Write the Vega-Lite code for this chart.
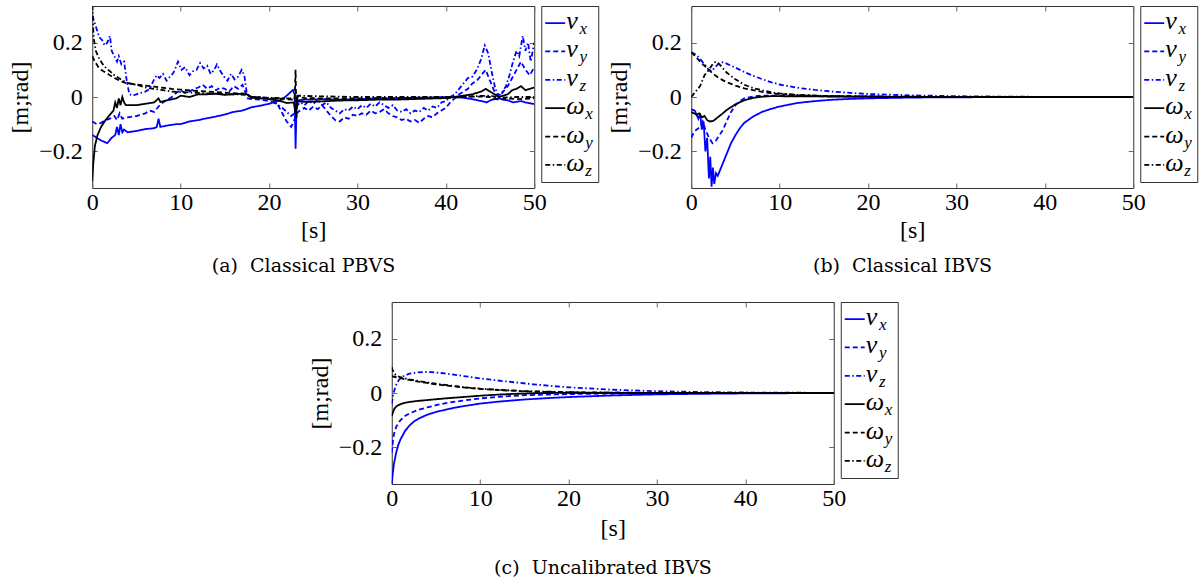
{
  "$schema": "https://vega.github.io/schema/vega-lite/v6.json",
  "padding": {"left": 8, "top": 4, "right": 2, "bottom": 2},
  "background": "white",
  "center": true,
  "spacing": 25,
  "datasets": {
    "L": [
      {"s": "vx", "sym": "v", "sub": "x"},
      {"s": "vy", "sym": "v", "sub": "y"},
      {"s": "vz", "sym": "v", "sub": "z"},
      {"s": "wx", "sym": "ω", "sub": "x"},
      {"s": "wy", "sym": "ω", "sub": "y"},
      {"s": "wz", "sym": "ω", "sub": "z"}
    ],
    "A": [
      {"s":"vx","t":0,"v":-0.14},{"s":"vx","t":0.5,"v":-0.15},{"s":"vx","t":1,"v":-0.16},{"s":"vx","t":1.7,"v":-0.17},{"s":"vx","t":2.2,"v":-0.15},{"s":"vx","t":2.6,"v":-0.14},{"s":"vx","t":2.8,"v":-0.11},{"s":"vx","t":3.0,"v":-0.14},{"s":"vx","t":3.2,"v":-0.10},{"s":"vx","t":3.4,"v":-0.13},{"s":"vx","t":3.6,"v":-0.12},{"s":"vx","t":4,"v":-0.13},{"s":"vx","t":5,"v":-0.125},{"s":"vx","t":6,"v":-0.118},{"s":"vx","t":7,"v":-0.115},{"s":"vx","t":7.3,"v":-0.11},{"s":"vx","t":7.5,"v":-0.08},{"s":"vx","t":7.7,"v":-0.11},{"s":"vx","t":8.5,"v":-0.105},{"s":"vx","t":9.5,"v":-0.1},{"s":"vx","t":10,"v":-0.1},{"s":"vx","t":11,"v":-0.09},{"s":"vx","t":12,"v":-0.085},{"s":"vx","t":13,"v":-0.078},{"s":"vx","t":14,"v":-0.072},{"s":"vx","t":15,"v":-0.064},{"s":"vx","t":16,"v":-0.055},{"s":"vx","t":17,"v":-0.05},{"s":"vx","t":17.5,"v":-0.044},{"s":"vx","t":18,"v":-0.038},{"s":"vx","t":19,"v":-0.032},{"s":"vx","t":20,"v":-0.025},{"s":"vx","t":21,"v":-0.015},{"s":"vx","t":21.5,"v":-0.008},{"s":"vx","t":22,"v":0.005},{"s":"vx","t":22.7,"v":0.026},{"s":"vx","t":22.9,"v":0.01},{"s":"vx","t":23.0,"v":-0.19},{"s":"vx","t":23.1,"v":-0.05},{"s":"vx","t":23.3,"v":-0.012},{"s":"vx","t":24,"v":-0.01},{"s":"vx","t":26,"v":-0.008},{"s":"vx","t":28,"v":-0.01},{"s":"vx","t":30,"v":-0.008},{"s":"vx","t":32,"v":-0.006},{"s":"vx","t":34,"v":-0.005},{"s":"vx","t":36,"v":-0.003},{"s":"vx","t":38,"v":-0.002},{"s":"vx","t":40,"v":0},{"s":"vx","t":41,"v":0},{"s":"vx","t":42,"v":-0.003},{"s":"vx","t":43,"v":-0.008},{"s":"vx","t":44,"v":-0.015},{"s":"vx","t":44.6,"v":-0.02},{"s":"vx","t":45.2,"v":-0.01},{"s":"vx","t":46,"v":-0.005},{"s":"vx","t":46.5,"v":-0.01},{"s":"vx","t":47,"v":-0.012},{"s":"vx","t":47.6,"v":-0.02},{"s":"vx","t":48.5,"v":-0.015},{"s":"vx","t":49,"v":-0.02},{"s":"vx","t":50,"v":-0.026},
      {"s":"vy","t":0,"v":-0.09},{"s":"vy","t":0.5,"v":-0.1},{"s":"vy","t":1,"v":-0.095},{"s":"vy","t":1.5,"v":-0.085},{"s":"vy","t":2,"v":-0.08},{"s":"vy","t":2.5,"v":-0.07},{"s":"vy","t":2.8,"v":-0.085},{"s":"vy","t":3.1,"v":-0.06},{"s":"vy","t":3.4,"v":-0.08},{"s":"vy","t":4,"v":-0.075},{"s":"vy","t":5,"v":-0.07},{"s":"vy","t":5.5,"v":-0.065},{"s":"vy","t":6,"v":-0.06},{"s":"vy","t":6.5,"v":-0.05},{"s":"vy","t":7,"v":-0.055},{"s":"vy","t":7.5,"v":-0.035},{"s":"vy","t":8,"v":-0.02},{"s":"vy","t":8.5,"v":-0.01},{"s":"vy","t":9,"v":0.0},{"s":"vy","t":9.5,"v":0.015},{"s":"vy","t":10,"v":0.025},{"s":"vy","t":10.5,"v":0.015},{"s":"vy","t":11,"v":0.02},{"s":"vy","t":11.5,"v":0.03},{"s":"vy","t":12,"v":0.035},{"s":"vy","t":12.5,"v":0.045},{"s":"vy","t":13,"v":0.03},{"s":"vy","t":13.5,"v":0.04},{"s":"vy","t":14,"v":0.025},{"s":"vy","t":14.5,"v":0.035},{"s":"vy","t":15,"v":0.03},{"s":"vy","t":15.5,"v":0.02},{"s":"vy","t":16,"v":0.04},{"s":"vy","t":16.5,"v":0.03},{"s":"vy","t":17,"v":0.045},{"s":"vy","t":17.3,"v":0.02},{"s":"vy","t":17.6,"v":-0.005},{"s":"vy","t":18,"v":-0.008},{"s":"vy","t":19,"v":-0.01},{"s":"vy","t":20,"v":-0.015},{"s":"vy","t":20.5,"v":-0.02},{"s":"vy","t":21,"v":-0.03},{"s":"vy","t":21.5,"v":-0.06},{"s":"vy","t":22,"v":-0.09},{"s":"vy","t":22.5,"v":-0.11},{"s":"vy","t":22.8,"v":-0.09},{"s":"vy","t":23.1,"v":-0.06},{"s":"vy","t":23.5,"v":-0.05},{"s":"vy","t":24,"v":-0.04},{"s":"vy","t":24.5,"v":-0.05},{"s":"vy","t":25,"v":-0.035},{"s":"vy","t":25.5,"v":-0.045},{"s":"vy","t":26,"v":-0.03},{"s":"vy","t":26.5,"v":-0.05},{"s":"vy","t":27,"v":-0.07},{"s":"vy","t":27.5,"v":-0.085},{"s":"vy","t":28,"v":-0.09},{"s":"vy","t":28.5,"v":-0.075},{"s":"vy","t":29,"v":-0.08},{"s":"vy","t":29.5,"v":-0.065},{"s":"vy","t":30,"v":-0.07},{"s":"vy","t":30.5,"v":-0.06},{"s":"vy","t":31,"v":-0.065},{"s":"vy","t":31.5,"v":-0.05},{"s":"vy","t":32,"v":-0.06},{"s":"vy","t":32.5,"v":-0.055},{"s":"vy","t":33,"v":-0.045},{"s":"vy","t":33.5,"v":-0.06},{"s":"vy","t":34,"v":-0.07},{"s":"vy","t":34.5,"v":-0.075},{"s":"vy","t":35,"v":-0.085},{"s":"vy","t":35.5,"v":-0.08},{"s":"vy","t":36,"v":-0.09},{"s":"vy","t":36.5,"v":-0.085},{"s":"vy","t":37,"v":-0.095},{"s":"vy","t":37.5,"v":-0.08},{"s":"vy","t":38,"v":-0.07},{"s":"vy","t":38.5,"v":-0.075},{"s":"vy","t":39,"v":-0.06},{"s":"vy","t":39.5,"v":-0.05},{"s":"vy","t":40,"v":-0.04},{"s":"vy","t":40.5,"v":-0.02},{"s":"vy","t":41,"v":-0.005},{"s":"vy","t":41.5,"v":0.01},{"s":"vy","t":42,"v":0.02},{"s":"vy","t":42.5,"v":0.03},{"s":"vy","t":43,"v":0.05},{"s":"vy","t":43.5,"v":0.06},{"s":"vy","t":44,"v":0.08},{"s":"vy","t":44.5,"v":0.1},{"s":"vy","t":45,"v":0.06},{"s":"vy","t":45.5,"v":0.02},{"s":"vy","t":46,"v":0.0},{"s":"vy","t":46.5,"v":0.02},{"s":"vy","t":47,"v":0.04},{"s":"vy","t":47.5,"v":0.07},{"s":"vy","t":48,"v":0.1},{"s":"vy","t":48.5,"v":0.13},{"s":"vy","t":49,"v":0.1},{"s":"vy","t":49.5,"v":0.08},{"s":"vy","t":50,"v":0.11},
      {"s":"vz","t":0,"v":0.30},{"s":"vz","t":0.2,"v":0.28},{"s":"vz","t":0.5,"v":0.25},{"s":"vz","t":0.8,"v":0.22},{"s":"vz","t":1.1,"v":0.21},{"s":"vz","t":1.4,"v":0.19},{"s":"vz","t":1.7,"v":0.2},{"s":"vz","t":2,"v":0.225},{"s":"vz","t":2.2,"v":0.17},{"s":"vz","t":2.5,"v":0.15},{"s":"vz","t":2.8,"v":0.13},{"s":"vz","t":3,"v":0.15},{"s":"vz","t":3.3,"v":0.12},{"s":"vz","t":3.6,"v":0.13},{"s":"vz","t":3.9,"v":0.06},{"s":"vz","t":4.2,"v":0.01},{"s":"vz","t":4.6,"v":0.005},{"s":"vz","t":5,"v":0.01},{"s":"vz","t":5.5,"v":0.015},{"s":"vz","t":6,"v":0.02},{"s":"vz","t":6.5,"v":0.03},{"s":"vz","t":7,"v":0.065},{"s":"vz","t":7.3,"v":0.08},{"s":"vz","t":7.6,"v":0.07},{"s":"vz","t":8,"v":0.085},{"s":"vz","t":8.4,"v":0.06},{"s":"vz","t":8.8,"v":0.075},{"s":"vz","t":9.2,"v":0.09},{"s":"vz","t":9.7,"v":0.13},{"s":"vz","t":10.1,"v":0.1},{"s":"vz","t":10.5,"v":0.11},{"s":"vz","t":11,"v":0.08},{"s":"vz","t":11.4,"v":0.095},{"s":"vz","t":11.8,"v":0.1},{"s":"vz","t":12.2,"v":0.125},{"s":"vz","t":12.6,"v":0.105},{"s":"vz","t":13,"v":0.115},{"s":"vz","t":13.4,"v":0.085},{"s":"vz","t":13.8,"v":0.1},{"s":"vz","t":14.1,"v":0.12},{"s":"vz","t":14.5,"v":0.095},{"s":"vz","t":14.9,"v":0.075},{"s":"vz","t":15.3,"v":0.06},{"s":"vz","t":15.7,"v":0.085},{"s":"vz","t":16.1,"v":0.065},{"s":"vz","t":16.5,"v":0.075},{"s":"vz","t":16.9,"v":0.1},{"s":"vz","t":17.2,"v":0.08},{"s":"vz","t":17.5,"v":0.01},{"s":"vz","t":18,"v":0.0},{"s":"vz","t":19,"v":0.0},{"s":"vz","t":20,"v":-0.005},{"s":"vz","t":20.5,"v":-0.015},{"s":"vz","t":21,"v":-0.03},{"s":"vz","t":21.5,"v":-0.04},{"s":"vz","t":22,"v":-0.055},{"s":"vz","t":22.5,"v":-0.07},{"s":"vz","t":22.9,"v":-0.06},{"s":"vz","t":23.2,"v":-0.03},{"s":"vz","t":23.6,"v":-0.02},{"s":"vz","t":24,"v":-0.03},{"s":"vz","t":24.5,"v":-0.015},{"s":"vz","t":25,"v":-0.025},{"s":"vz","t":25.5,"v":-0.01},{"s":"vz","t":26,"v":-0.03},{"s":"vz","t":26.5,"v":-0.02},{"s":"vz","t":27,"v":-0.04},{"s":"vz","t":27.5,"v":-0.05},{"s":"vz","t":28,"v":-0.06},{"s":"vz","t":28.5,"v":-0.045},{"s":"vz","t":29,"v":-0.05},{"s":"vz","t":29.5,"v":-0.035},{"s":"vz","t":30,"v":-0.045},{"s":"vz","t":30.5,"v":-0.03},{"s":"vz","t":31,"v":-0.04},{"s":"vz","t":31.5,"v":-0.025},{"s":"vz","t":32,"v":-0.035},{"s":"vz","t":32.5,"v":-0.02},{"s":"vz","t":33,"v":-0.03},{"s":"vz","t":33.5,"v":-0.04},{"s":"vz","t":34,"v":-0.03},{"s":"vz","t":34.5,"v":-0.05},{"s":"vz","t":35,"v":-0.055},{"s":"vz","t":35.5,"v":-0.045},{"s":"vz","t":36,"v":-0.06},{"s":"vz","t":36.5,"v":-0.05},{"s":"vz","t":37,"v":-0.055},{"s":"vz","t":37.5,"v":-0.04},{"s":"vz","t":38,"v":-0.05},{"s":"vz","t":38.5,"v":-0.035},{"s":"vz","t":39,"v":-0.04},{"s":"vz","t":39.5,"v":-0.02},{"s":"vz","t":40,"v":-0.015},{"s":"vz","t":40.5,"v":0.0},{"s":"vz","t":41,"v":0.01},{"s":"vz","t":41.5,"v":0.03},{"s":"vz","t":42,"v":0.05},{"s":"vz","t":42.5,"v":0.07},{"s":"vz","t":43,"v":0.075},{"s":"vz","t":43.5,"v":0.1},{"s":"vz","t":44,"v":0.14},{"s":"vz","t":44.4,"v":0.19},{"s":"vz","t":44.8,"v":0.16},{"s":"vz","t":45.2,"v":0.09},{"s":"vz","t":45.6,"v":0.03},{"s":"vz","t":46,"v":0.005},{"s":"vz","t":46.4,"v":0.02},{"s":"vz","t":46.8,"v":0.04},{"s":"vz","t":47.2,"v":0.08},{"s":"vz","t":47.6,"v":0.13},{"s":"vz","t":48,"v":0.17},{"s":"vz","t":48.3,"v":0.15},{"s":"vz","t":48.7,"v":0.225},{"s":"vz","t":49,"v":0.17},{"s":"vz","t":49.3,"v":0.2},{"s":"vz","t":49.6,"v":0.13},{"s":"vz","t":50,"v":0.2},
      {"s":"wx","t":0,"v":-0.31},{"s":"wx","t":0.1,"v":-0.25},{"s":"wx","t":0.3,"v":-0.18},{"s":"wx","t":0.6,"v":-0.14},{"s":"wx","t":1,"v":-0.11},{"s":"wx","t":1.5,"v":-0.085},{"s":"wx","t":2,"v":-0.065},{"s":"wx","t":2.4,"v":-0.05},{"s":"wx","t":2.6,"v":-0.02},{"s":"wx","t":2.8,"v":-0.04},{"s":"wx","t":3.0,"v":-0.005},{"s":"wx","t":3.2,"v":-0.03},{"s":"wx","t":3.4,"v":0.0},{"s":"wx","t":3.6,"v":-0.02},{"s":"wx","t":3.8,"v":-0.03},{"s":"wx","t":5,"v":-0.03},{"s":"wx","t":6,"v":-0.025},{"s":"wx","t":7,"v":-0.02},{"s":"wx","t":7.5,"v":-0.005},{"s":"wx","t":7.7,"v":-0.018},{"s":"wx","t":8.5,"v":-0.012},{"s":"wx","t":9.5,"v":-0.005},{"s":"wx","t":10,"v":0.005},{"s":"wx","t":11,"v":0.0},{"s":"wx","t":12,"v":0.01},{"s":"wx","t":13,"v":0.01},{"s":"wx","t":14,"v":0.012},{"s":"wx","t":15,"v":0.008},{"s":"wx","t":16,"v":0.01},{"s":"wx","t":17,"v":0.012},{"s":"wx","t":17.5,"v":0.01},{"s":"wx","t":18,"v":-0.003},{"s":"wx","t":19,"v":-0.005},{"s":"wx","t":20,"v":-0.008},{"s":"wx","t":21,"v":-0.012},{"s":"wx","t":22,"v":-0.022},{"s":"wx","t":22.8,"v":-0.02},{"s":"wx","t":23.0,"v":-0.06},{"s":"wx","t":23.1,"v":-0.015},{"s":"wx","t":24,"v":-0.018},{"s":"wx","t":26,"v":-0.016},{"s":"wx","t":28,"v":-0.013},{"s":"wx","t":30,"v":-0.012},{"s":"wx","t":32,"v":-0.01},{"s":"wx","t":34,"v":-0.01},{"s":"wx","t":36,"v":-0.008},{"s":"wx","t":38,"v":-0.006},{"s":"wx","t":40,"v":-0.004},{"s":"wx","t":41,"v":0.0},{"s":"wx","t":42,"v":0.005},{"s":"wx","t":43,"v":0.01},{"s":"wx","t":44,"v":0.02},{"s":"wx","t":44.5,"v":0.03},{"s":"wx","t":45,"v":0.02},{"s":"wx","t":45.5,"v":0.01},{"s":"wx","t":46,"v":0.0},{"s":"wx","t":46.5,"v":0.005},{"s":"wx","t":47,"v":0.01},{"s":"wx","t":47.5,"v":0.025},{"s":"wx","t":48,"v":0.03},{"s":"wx","t":48.5,"v":0.04},{"s":"wx","t":49,"v":0.025},{"s":"wx","t":49.5,"v":0.03},{"s":"wx","t":50,"v":0.035},
      {"s":"wy","t":0,"v":0.15},{"s":"wy","t":0.3,"v":0.13},{"s":"wy","t":0.7,"v":0.11},{"s":"wy","t":1,"v":0.1},{"s":"wy","t":1.5,"v":0.09},{"s":"wy","t":2,"v":0.08},{"s":"wy","t":2.5,"v":0.07},{"s":"wy","t":3,"v":0.062},{"s":"wy","t":3.5,"v":0.055},{"s":"wy","t":4,"v":0.05},{"s":"wy","t":5,"v":0.046},{"s":"wy","t":6,"v":0.042},{"s":"wy","t":7,"v":0.038},{"s":"wy","t":8,"v":0.034},{"s":"wy","t":9,"v":0.03},{"s":"wy","t":10,"v":0.027},{"s":"wy","t":12,"v":0.022},{"s":"wy","t":14,"v":0.018},{"s":"wy","t":16,"v":0.014},{"s":"wy","t":17.5,"v":0.012},{"s":"wy","t":18,"v":0.0},{"s":"wy","t":20,"v":-0.003},{"s":"wy","t":22,"v":-0.008},{"s":"wy","t":22.9,"v":-0.01},{"s":"wy","t":23.0,"v":0.1},{"s":"wy","t":23.1,"v":-0.08},{"s":"wy","t":23.2,"v":0.0},{"s":"wy","t":24,"v":-0.004},{"s":"wy","t":26,"v":-0.005},{"s":"wy","t":30,"v":-0.005},{"s":"wy","t":35,"v":-0.004},{"s":"wy","t":40,"v":-0.004},{"s":"wy","t":42,"v":0.0},{"s":"wy","t":44,"v":0.002},{"s":"wy","t":45,"v":0.0},{"s":"wy","t":46,"v":-0.01},{"s":"wy","t":47,"v":-0.005},{"s":"wy","t":48,"v":-0.008},{"s":"wy","t":50,"v":-0.005},
      {"s":"wz","t":0,"v":0.34},{"s":"wz","t":0.15,"v":0.22},{"s":"wz","t":0.4,"v":0.17},{"s":"wz","t":0.8,"v":0.14},{"s":"wz","t":1.2,"v":0.12},{"s":"wz","t":1.6,"v":0.105},{"s":"wz","t":2,"v":0.095},{"s":"wz","t":2.5,"v":0.08},{"s":"wz","t":3,"v":0.07},{"s":"wz","t":3.5,"v":0.06},{"s":"wz","t":4,"v":0.052},{"s":"wz","t":5,"v":0.045},{"s":"wz","t":6,"v":0.035},{"s":"wz","t":7,"v":0.03},{"s":"wz","t":8,"v":0.025},{"s":"wz","t":9,"v":0.02},{"s":"wz","t":10,"v":0.018},{"s":"wz","t":12,"v":0.015},{"s":"wz","t":14,"v":0.012},{"s":"wz","t":16,"v":0.01},{"s":"wz","t":17.5,"v":0.008},{"s":"wz","t":18,"v":0.0},{"s":"wz","t":20,"v":-0.003},{"s":"wz","t":22,"v":-0.005},{"s":"wz","t":23,"v":-0.006},{"s":"wz","t":23.2,"v":0.005},{"s":"wz","t":25,"v":0.003},{"s":"wz","t":30,"v":0.0},{"s":"wz","t":35,"v":0.0},{"s":"wz","t":40,"v":0.0},{"s":"wz","t":43,"v":0.003},{"s":"wz","t":45,"v":0.005},{"s":"wz","t":46,"v":-0.003},{"s":"wz","t":48,"v":0.0},{"s":"wz","t":50,"v":0.0}
    ],
    "B": [
      {"s":"vx","t":0,"v":-0.045},{"s":"vx","t":0.4,"v":-0.05},{"s":"vx","t":0.8,"v":-0.08},{"s":"vx","t":1.0,"v":-0.06},{"s":"vx","t":1.2,"v":-0.12},{"s":"vx","t":1.4,"v":-0.09},{"s":"vx","t":1.6,"v":-0.2},{"s":"vx","t":1.8,"v":-0.15},{"s":"vx","t":2.0,"v":-0.3},{"s":"vx","t":2.15,"v":-0.22},{"s":"vx","t":2.3,"v":-0.33},{"s":"vx","t":2.45,"v":-0.26},{"s":"vx","t":2.6,"v":-0.32},{"s":"vx","t":2.8,"v":-0.28},{"s":"vx","t":3.0,"v":-0.29},{"s":"vx","t":3.5,"v":-0.25},{"s":"vx","t":4,"v":-0.21},{"s":"vx","t":4.5,"v":-0.17},{"s":"vx","t":5,"v":-0.14},{"s":"vx","t":5.5,"v":-0.115},{"s":"vx","t":6,"v":-0.095},{"s":"vx","t":7,"v":-0.072},{"s":"vx","t":8,"v":-0.055},{"s":"vx","t":9,"v":-0.044},{"s":"vx","t":10,"v":-0.035},{"s":"vx","t":12,"v":-0.022},{"s":"vx","t":14,"v":-0.015},{"s":"vx","t":16,"v":-0.01},{"s":"vx","t":18,"v":-0.007},{"s":"vx","t":20,"v":-0.005},{"s":"vx","t":25,"v":-0.002},{"s":"vx","t":30,"v":-0.001},{"s":"vx","t":40,"v":0},{"s":"vx","t":50,"v":0},
      {"s":"vy","t":0,"v":-0.15},{"s":"vy","t":0.3,"v":-0.13},{"s":"vy","t":0.6,"v":-0.12},{"s":"vy","t":1.0,"v":-0.11},{"s":"vy","t":1.3,"v":-0.09},{"s":"vy","t":1.6,"v":-0.12},{"s":"vy","t":2.0,"v":-0.15},{"s":"vy","t":2.4,"v":-0.17},{"s":"vy","t":2.8,"v":-0.16},{"s":"vy","t":3.2,"v":-0.14},{"s":"vy","t":3.6,"v":-0.12},{"s":"vy","t":4,"v":-0.09},{"s":"vy","t":4.5,"v":-0.055},{"s":"vy","t":5,"v":-0.03},{"s":"vy","t":5.5,"v":-0.015},{"s":"vy","t":6,"v":-0.005},{"s":"vy","t":7,"v":0.002},{"s":"vy","t":8,"v":0.005},{"s":"vy","t":10,"v":0.005},{"s":"vy","t":14,"v":0.003},{"s":"vy","t":20,"v":0.001},{"s":"vy","t":30,"v":0},{"s":"vy","t":50,"v":0},
      {"s":"vz","t":0,"v":0.165},{"s":"vz","t":0.3,"v":0.16},{"s":"vz","t":0.6,"v":0.155},{"s":"vz","t":1,"v":0.14},{"s":"vz","t":1.5,"v":0.12},{"s":"vz","t":2,"v":0.1},{"s":"vz","t":2.3,"v":0.095},{"s":"vz","t":2.7,"v":0.11},{"s":"vz","t":3.2,"v":0.125},{"s":"vz","t":3.6,"v":0.128},{"s":"vz","t":4,"v":0.123},{"s":"vz","t":5,"v":0.108},{"s":"vz","t":6,"v":0.092},{"s":"vz","t":7,"v":0.078},{"s":"vz","t":8,"v":0.066},{"s":"vz","t":9,"v":0.055},{"s":"vz","t":10,"v":0.046},{"s":"vz","t":12,"v":0.034},{"s":"vz","t":14,"v":0.026},{"s":"vz","t":16,"v":0.02},{"s":"vz","t":18,"v":0.015},{"s":"vz","t":20,"v":0.011},{"s":"vz","t":25,"v":0.006},{"s":"vz","t":30,"v":0.003},{"s":"vz","t":35,"v":0.0015},{"s":"vz","t":40,"v":0.0005},{"s":"vz","t":50,"v":0},
      {"s":"wx","t":0,"v":-0.055},{"s":"wx","t":0.3,"v":-0.06},{"s":"wx","t":0.6,"v":-0.065},{"s":"wx","t":0.9,"v":-0.06},{"s":"wx","t":1.2,"v":-0.075},{"s":"wx","t":1.5,"v":-0.07},{"s":"wx","t":1.8,"v":-0.085},{"s":"wx","t":2.1,"v":-0.09},{"s":"wx","t":2.5,"v":-0.088},{"s":"wx","t":3,"v":-0.075},{"s":"wx","t":3.5,"v":-0.062},{"s":"wx","t":4,"v":-0.048},{"s":"wx","t":5,"v":-0.027},{"s":"wx","t":6,"v":-0.012},{"s":"wx","t":7,"v":-0.003},{"s":"wx","t":8,"v":0.001},{"s":"wx","t":9,"v":0.003},{"s":"wx","t":10,"v":0.003},{"s":"wx","t":12,"v":0.002},{"s":"wx","t":15,"v":0.002},{"s":"wx","t":20,"v":0.001},{"s":"wx","t":30,"v":0},{"s":"wx","t":50,"v":0},
      {"s":"wy","t":0,"v":0.165},{"s":"wy","t":0.3,"v":0.155},{"s":"wy","t":0.6,"v":0.145},{"s":"wy","t":1,"v":0.13},{"s":"wy","t":1.5,"v":0.115},{"s":"wy","t":2,"v":0.1},{"s":"wy","t":2.5,"v":0.085},{"s":"wy","t":3,"v":0.073},{"s":"wy","t":3.5,"v":0.063},{"s":"wy","t":4,"v":0.055},{"s":"wy","t":5,"v":0.042},{"s":"wy","t":6,"v":0.032},{"s":"wy","t":7,"v":0.025},{"s":"wy","t":8,"v":0.019},{"s":"wy","t":9,"v":0.014},{"s":"wy","t":10,"v":0.011},{"s":"wy","t":12,"v":0.007},{"s":"wy","t":15,"v":0.004},{"s":"wy","t":20,"v":0.002},{"s":"wy","t":30,"v":0},{"s":"wy","t":50,"v":0},
      {"s":"wz","t":0,"v":0.0},{"s":"wz","t":0.5,"v":0.02},{"s":"wz","t":1,"v":0.04},{"s":"wz","t":1.5,"v":0.08},{"s":"wz","t":2,"v":0.1},{"s":"wz","t":2.5,"v":0.125},{"s":"wz","t":2.8,"v":0.13},{"s":"wz","t":3.2,"v":0.12},{"s":"wz","t":4,"v":0.09},{"s":"wz","t":5,"v":0.065},{"s":"wz","t":6,"v":0.045},{"s":"wz","t":7,"v":0.033},{"s":"wz","t":8,"v":0.025},{"s":"wz","t":9,"v":0.018},{"s":"wz","t":10,"v":0.013},{"s":"wz","t":12,"v":0.008},{"s":"wz","t":15,"v":0.004},{"s":"wz","t":20,"v":0.002},{"s":"wz","t":30,"v":0},{"s":"wz","t":50,"v":0}
    ],
    "C": [
      {"s":"vx","t":0,"v":-0.34},{"s":"vx","t":0.1,"v":-0.3},{"s":"vx","t":0.25,"v":-0.26},{"s":"vx","t":0.5,"v":-0.22},{"s":"vx","t":0.75,"v":-0.19},{"s":"vx","t":1,"v":-0.17},{"s":"vx","t":1.5,"v":-0.14},{"s":"vx","t":2,"v":-0.12},{"s":"vx","t":2.5,"v":-0.105},{"s":"vx","t":3,"v":-0.095},{"s":"vx","t":4,"v":-0.08},{"s":"vx","t":5,"v":-0.07},{"s":"vx","t":6,"v":-0.062},{"s":"vx","t":7,"v":-0.055},{"s":"vx","t":8,"v":-0.049},{"s":"vx","t":10,"v":-0.039},{"s":"vx","t":12,"v":-0.032},{"s":"vx","t":15,"v":-0.024},{"s":"vx","t":18,"v":-0.018},{"s":"vx","t":20,"v":-0.015},{"s":"vx","t":25,"v":-0.009},{"s":"vx","t":30,"v":-0.005},{"s":"vx","t":35,"v":-0.003},{"s":"vx","t":40,"v":-0.0015},{"s":"vx","t":45,"v":-0.0008},{"s":"vx","t":50,"v":-0.0004},
      {"s":"vy","t":0,"v":-0.22},{"s":"vy","t":0.15,"v":-0.17},{"s":"vy","t":0.3,"v":-0.145},{"s":"vy","t":0.5,"v":-0.125},{"s":"vy","t":0.75,"v":-0.11},{"s":"vy","t":1,"v":-0.1},{"s":"vy","t":1.5,"v":-0.085},{"s":"vy","t":2,"v":-0.075},{"s":"vy","t":3,"v":-0.062},{"s":"vy","t":4,"v":-0.053},{"s":"vy","t":5,"v":-0.045},{"s":"vy","t":6,"v":-0.038},{"s":"vy","t":8,"v":-0.028},{"s":"vy","t":10,"v":-0.02},{"s":"vy","t":12,"v":-0.014},{"s":"vy","t":15,"v":-0.008},{"s":"vy","t":20,"v":-0.004},{"s":"vy","t":25,"v":-0.002},{"s":"vy","t":30,"v":-0.001},{"s":"vy","t":40,"v":0},{"s":"vy","t":50,"v":0},
      {"s":"vz","t":0,"v":-0.04},{"s":"vz","t":0.15,"v":-0.01},{"s":"vz","t":0.3,"v":0.01},{"s":"vz","t":0.5,"v":0.03},{"s":"vz","t":0.75,"v":0.045},{"s":"vz","t":1,"v":0.055},{"s":"vz","t":1.5,"v":0.065},{"s":"vz","t":2,"v":0.071},{"s":"vz","t":3,"v":0.076},{"s":"vz","t":3.7,"v":0.0775},{"s":"vz","t":4.5,"v":0.077},{"s":"vz","t":5,"v":0.0755},{"s":"vz","t":6,"v":0.072},{"s":"vz","t":7,"v":0.068},{"s":"vz","t":8,"v":0.063},{"s":"vz","t":10,"v":0.054},{"s":"vz","t":12,"v":0.046},{"s":"vz","t":14,"v":0.039},{"s":"vz","t":16,"v":0.032},{"s":"vz","t":18,"v":0.026},{"s":"vz","t":20,"v":0.021},{"s":"vz","t":25,"v":0.012},{"s":"vz","t":30,"v":0.0065},{"s":"vz","t":35,"v":0.0035},{"s":"vz","t":40,"v":0.0018},{"s":"vz","t":50,"v":0.0004},
      {"s":"wx","t":0,"v":-0.085},{"s":"wx","t":0.15,"v":-0.07},{"s":"wx","t":0.3,"v":-0.058},{"s":"wx","t":0.5,"v":-0.05},{"s":"wx","t":0.75,"v":-0.045},{"s":"wx","t":1,"v":-0.041},{"s":"wx","t":1.5,"v":-0.036},{"s":"wx","t":2,"v":-0.033},{"s":"wx","t":3,"v":-0.029},{"s":"wx","t":4,"v":-0.026},{"s":"wx","t":5,"v":-0.023},{"s":"wx","t":6,"v":-0.02},{"s":"wx","t":8,"v":-0.015},{"s":"wx","t":10,"v":-0.01},{"s":"wx","t":12,"v":-0.006},{"s":"wx","t":14,"v":-0.003},{"s":"wx","t":16,"v":-0.001},{"s":"wx","t":20,"v":0.001},{"s":"wx","t":25,"v":0.0005},{"s":"wx","t":30,"v":0},{"s":"wx","t":50,"v":0},
      {"s":"wy","t":0,"v":0.062},{"s":"wy","t":0.5,"v":0.058},{"s":"wy","t":1,"v":0.055},{"s":"wy","t":1.5,"v":0.051},{"s":"wy","t":2,"v":0.048},{"s":"wy","t":3,"v":0.042},{"s":"wy","t":4,"v":0.037},{"s":"wy","t":5,"v":0.032},{"s":"wy","t":6,"v":0.028},{"s":"wy","t":8,"v":0.021},{"s":"wy","t":10,"v":0.015},{"s":"wy","t":12,"v":0.011},{"s":"wy","t":15,"v":0.006},{"s":"wy","t":20,"v":0.002},{"s":"wy","t":25,"v":0.001},{"s":"wy","t":30,"v":0},{"s":"wy","t":50,"v":0},
      {"s":"wz","t":0,"v":0.095},{"s":"wz","t":0.15,"v":0.08},{"s":"wz","t":0.3,"v":0.071},{"s":"wz","t":0.5,"v":0.065},{"s":"wz","t":0.75,"v":0.061},{"s":"wz","t":1,"v":0.058},{"s":"wz","t":1.5,"v":0.054},{"s":"wz","t":2,"v":0.05},{"s":"wz","t":3,"v":0.044},{"s":"wz","t":4,"v":0.039},{"s":"wz","t":5,"v":0.034},{"s":"wz","t":6,"v":0.03},{"s":"wz","t":8,"v":0.022},{"s":"wz","t":10,"v":0.016},{"s":"wz","t":12,"v":0.012},{"s":"wz","t":15,"v":0.007},{"s":"wz","t":20,"v":0.003},{"s":"wz","t":25,"v":0.0015},{"s":"wz","t":30,"v":0.0005},{"s":"wz","t":50,"v":0}
    ]
  },
  "vconcat": [
    {
      "spacing": 7,
      "hconcat": [
        {
          "spacing": 7,
          "bounds": "flush",
          "title": {"text": "(a)\u00a0 Classical PBVS", "orient": "bottom", "anchor": "middle", "offset": 14},
          "hconcat": [
            {
              "width": 442, "height": 182,
              "data": {"name": "A"},
              "layer": [
                {
                  "mark": {"type": "line", "strokeWidth": 1.8, "clip": true},
                  "encoding": {
                    "x": {"field": "t", "type": "quantitative", "scale": {"domain": [0, 50], "nice": false, "zero": false}, "axis": {"orient": "bottom", "values": [0, 10, 20, 30, 40, 50], "title": "[s]", "labelFlush": false, "labelPadding": 7, "titlePadding": 4}},
                    "y": {"field": "v", "type": "quantitative", "scale": {"domain": [-0.335, 0.335], "nice": false, "zero": false}, "axis": {"orient": "left", "values": [-0.2, 0, 0.2], "format": "~g", "title": "[m;rad]", "labelPadding": 15, "titlePadding": 6}},
                    "color": {"field": "s", "type": "nominal", "scale": {"domain": ["vx", "vy", "vz", "wx", "wy", "wz"], "range": ["#0000ff", "#0000ff", "#0000ff", "#000000", "#000000", "#000000"]}, "legend": null},
                    "strokeDash": {"field": "s", "type": "nominal", "scale": {"domain": ["vx", "vy", "vz", "wx", "wy", "wz"], "range": [[1, 0], [5, 3], [5, 2.5, 1.5, 2.5], [1, 0], [5, 3], [5, 2.5, 1.5, 2.5]]}, "legend": null}
                  }
                },
                {
                  "mark": {"type": "line", "opacity": 0},
                  "encoding": {
                    "x": {"field": "t", "type": "quantitative", "axis": {"orient": "top", "values": [0, 10, 20, 30, 40, 50], "labels": false, "title": null, "minExtent": 0, "maxExtent": 0}},
                    "y": {"field": "v", "type": "quantitative", "axis": {"orient": "right", "values": [-0.2, 0, 0.2], "labels": false, "title": null, "minExtent": 0, "maxExtent": 0}},
                    "detail": {"field": "s"}
                  }
                }
              ]
            },
            {
              "width": 57, "height": 176,
              "data": {"name": "L"},
              "encoding": {"y": {"field": "s", "type": "nominal", "scale": {"type": "point", "domain": ["vx", "vy", "vz", "wx", "wy", "wz"], "padding": 0.6}, "axis": null}},
              "layer": [
                {
                  "mark": {"type": "rule", "strokeWidth": 1.8},
                  "encoding": {
                    "x": {"datum": 0.07, "type": "quantitative", "scale": {"domain": [0, 1], "nice": false, "zero": false}, "axis": null},
                    "x2": {"datum": 0.42},
                    "color": {"field": "s", "type": "nominal", "scale": {"domain": ["vx", "vy", "vz", "wx", "wy", "wz"], "range": ["#0000ff", "#0000ff", "#0000ff", "#000000", "#000000", "#000000"]}, "legend": null},
                    "strokeDash": {"field": "s", "type": "nominal", "scale": {"domain": ["vx", "vy", "vz", "wx", "wy", "wz"], "range": [[1, 0], [5, 3], [5, 2.5, 1.5, 2.5], [1, 0], [5, 3], [5, 2.5, 1.5, 2.5]]}, "legend": null}
                  }
                },
                {
                  "mark": {"type": "text", "align": "left", "baseline": "alphabetic", "dy": 6, "font": "Liberation Serif", "fontStyle": "italic", "fontSize": 26, "fill": "#000"},
                  "encoding": {"x": {"datum": 0.44, "type": "quantitative"}, "text": {"field": "sym"}}
                },
                {
                  "transform": [{"filter": "datum.sym === 'v'"}],
                  "mark": {"type": "text", "align": "left", "baseline": "alphabetic", "dy": 11, "font": "Liberation Serif", "fontStyle": "italic", "fontSize": 17, "fill": "#000"},
                  "encoding": {"x": {"datum": 0.67, "type": "quantitative"}, "text": {"field": "sub"}}
                },
                {
                  "transform": [{"filter": "datum.sym !== 'v'"}],
                  "mark": {"type": "text", "align": "left", "baseline": "alphabetic", "dy": 11, "font": "Liberation Serif", "fontStyle": "italic", "fontSize": 17, "fill": "#000"},
                  "encoding": {"x": {"datum": 0.77, "type": "quantitative"}, "text": {"field": "sub"}}
                }
              ]
            }
          ]
        },
        {
          "spacing": 7,
          "bounds": "flush",
          "title": {"text": "(b)\u00a0 Classical IBVS", "orient": "bottom", "anchor": "middle", "offset": 14},
          "hconcat": [
            {
              "width": 442, "height": 182,
              "data": {"name": "B"},
              "layer": [
                {
                  "mark": {"type": "line", "strokeWidth": 1.8, "clip": true},
                  "encoding": {
                    "x": {"field": "t", "type": "quantitative", "scale": {"domain": [0, 50], "nice": false, "zero": false}, "axis": {"orient": "bottom", "values": [0, 10, 20, 30, 40, 50], "title": "[s]", "labelFlush": false, "labelPadding": 7, "titlePadding": 4}},
                    "y": {"field": "v", "type": "quantitative", "scale": {"domain": [-0.335, 0.335], "nice": false, "zero": false}, "axis": {"orient": "left", "values": [-0.2, 0, 0.2], "format": "~g", "title": "[m;rad]", "labelPadding": 15, "titlePadding": 6}},
                    "color": {"field": "s", "type": "nominal", "scale": {"domain": ["vx", "vy", "vz", "wx", "wy", "wz"], "range": ["#0000ff", "#0000ff", "#0000ff", "#000000", "#000000", "#000000"]}, "legend": null},
                    "strokeDash": {"field": "s", "type": "nominal", "scale": {"domain": ["vx", "vy", "vz", "wx", "wy", "wz"], "range": [[1, 0], [5, 3], [5, 2.5, 1.5, 2.5], [1, 0], [5, 3], [5, 2.5, 1.5, 2.5]]}, "legend": null}
                  }
                },
                {
                  "mark": {"type": "line", "opacity": 0},
                  "encoding": {
                    "x": {"field": "t", "type": "quantitative", "axis": {"orient": "top", "values": [0, 10, 20, 30, 40, 50], "labels": false, "title": null, "minExtent": 0, "maxExtent": 0}},
                    "y": {"field": "v", "type": "quantitative", "axis": {"orient": "right", "values": [-0.2, 0, 0.2], "labels": false, "title": null, "minExtent": 0, "maxExtent": 0}},
                    "detail": {"field": "s"}
                  }
                }
              ]
            },
            {
              "width": 57, "height": 176,
              "data": {"name": "L"},
              "encoding": {"y": {"field": "s", "type": "nominal", "scale": {"type": "point", "domain": ["vx", "vy", "vz", "wx", "wy", "wz"], "padding": 0.6}, "axis": null}},
              "layer": [
                {
                  "mark": {"type": "rule", "strokeWidth": 1.8},
                  "encoding": {
                    "x": {"datum": 0.07, "type": "quantitative", "scale": {"domain": [0, 1], "nice": false, "zero": false}, "axis": null},
                    "x2": {"datum": 0.42},
                    "color": {"field": "s", "type": "nominal", "scale": {"domain": ["vx", "vy", "vz", "wx", "wy", "wz"], "range": ["#0000ff", "#0000ff", "#0000ff", "#000000", "#000000", "#000000"]}, "legend": null},
                    "strokeDash": {"field": "s", "type": "nominal", "scale": {"domain": ["vx", "vy", "vz", "wx", "wy", "wz"], "range": [[1, 0], [5, 3], [5, 2.5, 1.5, 2.5], [1, 0], [5, 3], [5, 2.5, 1.5, 2.5]]}, "legend": null}
                  }
                },
                {
                  "mark": {"type": "text", "align": "left", "baseline": "alphabetic", "dy": 6, "font": "Liberation Serif", "fontStyle": "italic", "fontSize": 26, "fill": "#000"},
                  "encoding": {"x": {"datum": 0.44, "type": "quantitative"}, "text": {"field": "sym"}}
                },
                {
                  "transform": [{"filter": "datum.sym === 'v'"}],
                  "mark": {"type": "text", "align": "left", "baseline": "alphabetic", "dy": 11, "font": "Liberation Serif", "fontStyle": "italic", "fontSize": 17, "fill": "#000"},
                  "encoding": {"x": {"datum": 0.67, "type": "quantitative"}, "text": {"field": "sub"}}
                },
                {
                  "transform": [{"filter": "datum.sym !== 'v'"}],
                  "mark": {"type": "text", "align": "left", "baseline": "alphabetic", "dy": 11, "font": "Liberation Serif", "fontStyle": "italic", "fontSize": 17, "fill": "#000"},
                  "encoding": {"x": {"datum": 0.77, "type": "quantitative"}, "text": {"field": "sub"}}
                }
              ]
            }
          ]
        }
      ]
    },
    {
      "spacing": 7,
      "bounds": "flush",
      "title": {"text": "(c)\u00a0 Uncalibrated IBVS", "orient": "bottom", "anchor": "middle", "offset": 18},
      "hconcat": [
        {
          "width": 442, "height": 182,
          "data": {"name": "C"},
          "layer": [
            {
              "mark": {"type": "line", "strokeWidth": 1.8, "clip": true},
              "encoding": {
                "x": {"field": "t", "type": "quantitative", "scale": {"domain": [0, 50], "nice": false, "zero": false}, "axis": {"orient": "bottom", "values": [0, 10, 20, 30, 40, 50], "title": "[s]", "labelFlush": false, "labelPadding": 7, "titlePadding": 6}},
                "y": {"field": "v", "type": "quantitative", "scale": {"domain": [-0.335, 0.335], "nice": false, "zero": false}, "axis": {"orient": "left", "values": [-0.2, 0, 0.2], "format": "~g", "title": "[m;rad]", "labelPadding": 15, "titlePadding": 6}},
                "color": {"field": "s", "type": "nominal", "scale": {"domain": ["vx", "vy", "vz", "wx", "wy", "wz"], "range": ["#0000ff", "#0000ff", "#0000ff", "#000000", "#000000", "#000000"]}, "legend": null},
                "strokeDash": {"field": "s", "type": "nominal", "scale": {"domain": ["vx", "vy", "vz", "wx", "wy", "wz"], "range": [[1, 0], [5, 3], [5, 2.5, 1.5, 2.5], [1, 0], [5, 3], [5, 2.5, 1.5, 2.5]]}, "legend": null}
              }
            },
            {
              "mark": {"type": "line", "opacity": 0},
              "encoding": {
                "x": {"field": "t", "type": "quantitative", "axis": {"orient": "top", "values": [0, 10, 20, 30, 40, 50], "labels": false, "title": null, "minExtent": 0, "maxExtent": 0}},
                "y": {"field": "v", "type": "quantitative", "axis": {"orient": "right", "values": [-0.2, 0, 0.2], "labels": false, "title": null, "minExtent": 0, "maxExtent": 0}},
                "detail": {"field": "s"}
              }
            }
          ]
        },
        {
          "width": 57, "height": 176,
          "data": {"name": "L"},
          "encoding": {"y": {"field": "s", "type": "nominal", "scale": {"type": "point", "domain": ["vx", "vy", "vz", "wx", "wy", "wz"], "padding": 0.6}, "axis": null}},
          "layer": [
            {
              "mark": {"type": "rule", "strokeWidth": 1.8},
              "encoding": {
                "x": {"datum": 0.07, "type": "quantitative", "scale": {"domain": [0, 1], "nice": false, "zero": false}, "axis": null},
                "x2": {"datum": 0.42},
                "color": {"field": "s", "type": "nominal", "scale": {"domain": ["vx", "vy", "vz", "wx", "wy", "wz"], "range": ["#0000ff", "#0000ff", "#0000ff", "#000000", "#000000", "#000000"]}, "legend": null},
                "strokeDash": {"field": "s", "type": "nominal", "scale": {"domain": ["vx", "vy", "vz", "wx", "wy", "wz"], "range": [[1, 0], [5, 3], [5, 2.5, 1.5, 2.5], [1, 0], [5, 3], [5, 2.5, 1.5, 2.5]]}, "legend": null}
              }
            },
            {
              "mark": {"type": "text", "align": "left", "baseline": "alphabetic", "dy": 6, "font": "Liberation Serif", "fontStyle": "italic", "fontSize": 26, "fill": "#000"},
              "encoding": {"x": {"datum": 0.44, "type": "quantitative"}, "text": {"field": "sym"}}
            },
            {
              "transform": [{"filter": "datum.sym === 'v'"}],
              "mark": {"type": "text", "align": "left", "baseline": "alphabetic", "dy": 11, "font": "Liberation Serif", "fontStyle": "italic", "fontSize": 17, "fill": "#000"},
              "encoding": {"x": {"datum": 0.67, "type": "quantitative"}, "text": {"field": "sub"}}
            },
            {
              "transform": [{"filter": "datum.sym !== 'v'"}],
              "mark": {"type": "text", "align": "left", "baseline": "alphabetic", "dy": 11, "font": "Liberation Serif", "fontStyle": "italic", "fontSize": 17, "fill": "#000"},
              "encoding": {"x": {"datum": 0.77, "type": "quantitative"}, "text": {"field": "sub"}}
            }
          ]
        }
      ]
    }
  ],
  "config": {
    "view": {"stroke": "#333", "strokeWidth": 1},
    "axis": {"grid": false, "domain": false, "tickSize": -5, "tickColor": "#666", "tickWidth": 1, "labelFont": "Liberation Serif", "labelFontSize": 24, "labelColor": "#000", "titleFont": "Liberation Serif", "titleFontSize": 24, "titleFontWeight": "normal", "titleColor": "#000"},
    "title": {"font": "DejaVu Serif", "fontSize": 19, "fontWeight": "normal", "color": "#000"}
  }
}
